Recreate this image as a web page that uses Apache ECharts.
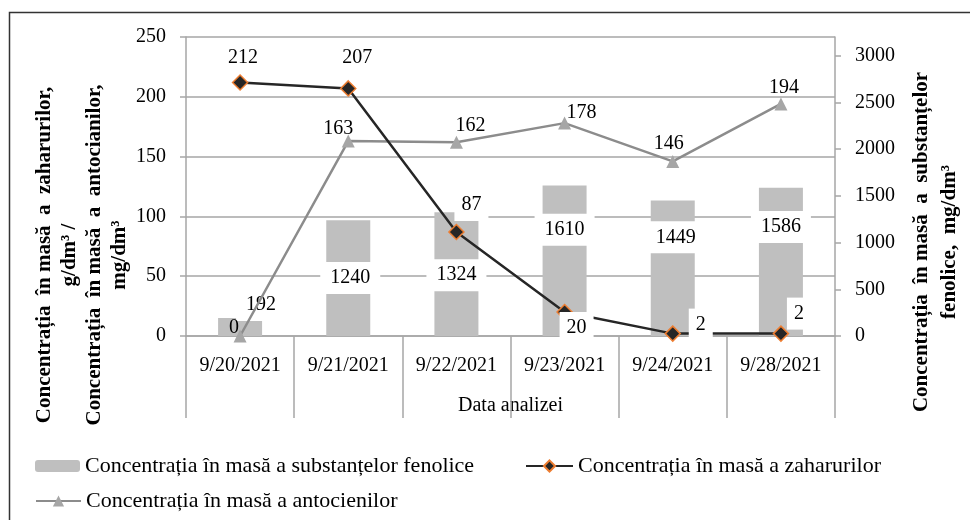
<!DOCTYPE html>
<html>
<head>
<meta charset="utf-8">
<script src="https://cdn.jsdelivr.net/npm/echarts@6/dist/echarts.min.js"></script>
<style>
html,body{margin:0;padding:0;background:#fff;}
#chart{width:970px;height:520px;}
</style>
</head>
<body>
<div id="chart"></div>
<script>
// ---- data ----
const categories = ['9/20/2021','9/21/2021','9/22/2021','9/23/2021','9/24/2021','9/28/2021'];
const phenolics = [192, 1240, 1324, 1610, 1449, 1586];   // mg/dm3, right axis
const sugars = [212, 207, 87, 20, 2, 2];                   // g/dm3, left axis
const anthocyanins = [0, 163, 162, 178, 146, 194];         // mg/dm3, left axis
const leftTicks = [0, 50, 100, 150, 200, 250];
const rightTicks = [0, 500, 1000, 1500, 2000, 2500, 3000];

const nameBar = 'Concentrația în masă a substanțelor fenolice';
const nameSugar = 'Concentrația în masă a zaharurilor';
const nameAntho = 'Concentrația în masă a antocienilor';

// ---- label placement (style only) ----
const barLabelOffsets = [[21,-22],[2,0],[0,1],[0,-31],[3,-31],[0,-35]];
const sugarLabelOffsets = [[3,-25],[9,-31],[15,-27],[12,16],[28,-9],[18,-20]];
const anthoLabelOffsets = [[-6,-8],[-10,-12],[14,-16],[17,-10],[-4,-18],[3,-16]];

const FONT = 'Liberation Serif';
const GRID = '#a6a6a6';

const chart = echarts.init(document.getElementById('chart'), null, {renderer: 'canvas'});

const legendText = {fontFamily: FONT, fontSize: 22, color: '#000'};

const option = {
  animation: false,
  backgroundColor: '#fff',
  textStyle: {fontFamily: FONT, color: '#000'},
  grid: {left: 186, right: 135, top: 37, bottom: 184, containLabel: false},
  xAxis: {
    type: 'category',
    data: categories,
    boundaryGap: true,
    name: 'Data analizei',
    nameLocation: 'middle',
    nameGap: 60,
    nameTextStyle: {fontFamily: FONT, fontSize: 20, color: '#000'},
    axisLine: {show: true, lineStyle: {color: GRID, width: 1.5}},
    axisTick: {show: true, alignWithLabel: false, interval: 0, length: 82, lineStyle: {color: GRID, width: 1.5}},
    axisLabel: {interval: 0, margin: 20, fontFamily: FONT, fontSize: 20, color: '#000'}
  },
  yAxis: [
    {
      type: 'value', min: leftTicks[0], max: leftTicks[leftTicks.length-1], interval: 50,
      position: 'left',
      axisLine: {show: true, lineStyle: {color: GRID, width: 1.5}},
      axisTick: {show: true, length: 6, lineStyle: {color: GRID, width: 1.5}},
      axisLabel: {margin: 20, fontFamily: FONT, fontSize: 20, color: '#000'},
      splitLine: {show: true, lineStyle: {color: GRID, width: 1.5}}
    },
    {
      type: 'value', min: rightTicks[0], max: 3200, interval: 500,
      position: 'right',
      axisLine: {show: true, lineStyle: {color: GRID, width: 1.5}},
      axisTick: {show: true, length: 6, lineStyle: {color: GRID, width: 1.5}},
      axisLabel: {margin: 20, showMaxLabel: false, fontFamily: FONT, fontSize: 20, color: '#000',
        formatter: v => (rightTicks.indexOf(v) >= 0 ? String(v) : '')},
      splitLine: {show: false}
    }
  ],
  legend: [
    {data: [nameBar], left: 35, top: 455, padding: 0, itemWidth: 45, itemHeight: 12, itemGap: 0,
     textStyle: legendText},
    {data: [nameSugar], left: 525, top: 455, padding: 0, itemWidth: 47, itemHeight: 14, itemGap: 0,
     textStyle: legendText},
    {data: [nameAntho], left: 35, top: 490, padding: 0, itemWidth: 45, itemHeight: 14, itemGap: 0,
     textStyle: legendText}
  ],
  graphic: [
    {type: 'rect', shape: {x: 9.5, y: 12.5, width: 1000, height: 600},
     style: {fill: 'none', stroke: '#333', lineWidth: 1.5}, silent: true, z: -1},
    {type: 'text', x: 82, y: 255, rotation: Math.PI/2,
     style: {text: 'Concentrația  în masă  a  zaharurilor,\ng/dm³ /\nConcentrația  în masă  a  antocianilor,\nmg/dm³',
       font: 'bold 21px "Liberation Serif"', align: 'center', verticalAlign: 'middle', lineHeight: 25, fill: '#000'}},
    {type: 'text', x: 936, y: 242, rotation: Math.PI/2,
     style: {text: 'Concentrația  în masă  a  substanțelor\nfenolice,  mg/dm³',
       font: 'bold 21px "Liberation Serif"', align: 'center', verticalAlign: 'middle', lineHeight: 28, fill: '#000'}}
  ],
  series: [
    {
      name: nameBar, type: 'bar', yAxisIndex: 1, barWidth: 44,
      itemStyle: {color: '#bfbfbf'},
      label: {show: true, position: 'inside', fontFamily: FONT, fontSize: 20, color: '#000',
        backgroundColor: '#fff', padding: [6, 10]},
      data: phenolics.map((v, i) => ({value: v, label: {offset: barLabelOffsets[i]}}))
    },
    {
      name: nameAntho, type: 'line', yAxisIndex: 0,
      symbol: 'triangle', symbolSize: 13,
      lineStyle: {color: '#8c8c8c', width: 2.5},
      itemStyle: {color: '#a6a6a6', borderColor: '#a6a6a6', borderWidth: 0},
      label: {show: true, position: 'inside', fontFamily: FONT, fontSize: 20, color: '#000'},
      data: anthocyanins.map((v, i) => ({value: v, label: {offset: anthoLabelOffsets[i]}}))
    },
    {
      name: nameSugar, type: 'line', yAxisIndex: 0,
      symbol: 'diamond', symbolSize: 15,
      lineStyle: {color: '#262626', width: 2.5},
      itemStyle: {color: '#262626', borderColor: '#ed7d31', borderWidth: 1.5},
      label: {show: true, position: 'inside', fontFamily: FONT, fontSize: 20, color: '#000',
        backgroundColor: '#fff', padding: [6, 7]},
      data: sugars.map((v, i) => ({value: v, label: {offset: sugarLabelOffsets[i]}}))
    }
  ]
};
chart.setOption(option);
</script>
</body>
</html>
